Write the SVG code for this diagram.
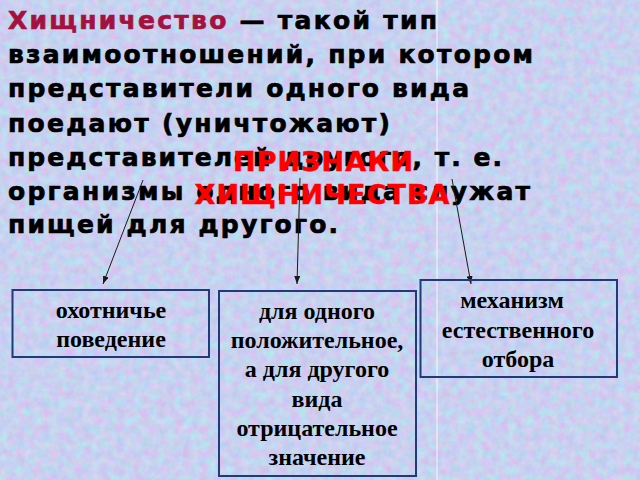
<svg xmlns="http://www.w3.org/2000/svg" width="640" height="480" viewBox="0 0 640 480">
<style>
.body{font-family:"DejaVu Sans",Verdana,sans-serif;font-weight:bold;font-size:25px;fill:#000;stroke:#000;stroke-width:0.7}
.term{fill:#a3123f;stroke:#a3123f}
.red{font-family:"DejaVu Sans",Verdana,sans-serif;font-weight:bold;font-size:27px;fill:#ff0000;stroke:#ff0000;stroke-width:0.5;text-anchor:middle}
.box{fill:none;stroke:#1f3b7a;stroke-width:2}
.lbl{font-family:"Liberation Serif","Times New Roman",serif;font-weight:bold;font-size:24px;fill:#000;text-anchor:middle}
.conn{stroke:#1a1a1a;stroke-width:1;fill:none;marker-end:url(#ah)}
</style>
<defs>
<filter id="tex" x="0" y="0" width="640" height="480" filterUnits="userSpaceOnUse" color-interpolation-filters="sRGB">
<feTurbulence type="fractalNoise" baseFrequency="0.12" numOctaves="3" seed="7"/>
<feColorMatrix type="matrix" values="0.28 0 0 0 0.645  -0.15 0.16 0 0 0.815  0 0 0.1 0 0.89  0 0 0 0 1"/>
</filter>
<marker id="ah" viewBox="0 0 8 6" refX="8" refY="3" markerWidth="8" markerHeight="6" markerUnits="userSpaceOnUse" orient="auto">
<path d="M0,0 L8,3 L0,6 z" fill="#1a1a1a"/>
</marker>
</defs>
<rect width="640" height="480" fill="#c6d2f1"/>
<rect width="640" height="480" filter="url(#tex)"/>
<line x1="437" y1="0" x2="437" y2="480" stroke="#ffffff" stroke-opacity="0.55" stroke-width="1.5"/>
<g id="definition">
<text class="body" x="8" y="29" textLength="429" lengthAdjust="spacing"><tspan class="term">Хищничество</tspan> — такой тип</text>
<text class="body" x="8" y="63" textLength="525" lengthAdjust="spacing">взаимоотношений, при котором</text>
<text class="body" x="8" y="97" textLength="461" lengthAdjust="spacing">представители одного вида</text>
<text class="body" x="8" y="132" textLength="382" lengthAdjust="spacing">поедают (уничтожают)</text>
<text class="body" x="8" y="166" textLength="494" lengthAdjust="spacing">представителей другого, т. е.</text>
<text class="body" x="8" y="200" textLength="522" lengthAdjust="spacing">организмы одного вида служат</text>
<text class="body" x="8" y="233" textLength="330" lengthAdjust="spacing">пищей для другого.</text>
</g>
<g id="title">
<text class="red" x="323" y="171" textLength="180" lengthAdjust="spacing">ПРИЗНАКИ</text>
<text class="red" x="322" y="204" textLength="255" lengthAdjust="spacing">ХИЩНИЧЕСТВА</text>
</g>
<g id="connectors">
<line class="conn" x1="143" y1="180" x2="103" y2="284"/>
<line class="conn" x1="300" y1="178" x2="297" y2="284"/>
<line class="conn" x1="452" y1="179" x2="471" y2="284"/>
</g>
<g id="node-hunting">
<rect class="box" x="12.5" y="290" width="196.5" height="67"/>
<text class="lbl" x="111" y="318">охотничье</text>
<text class="lbl" x="111" y="347">поведение</text>
</g>
<g id="node-value">
<rect class="box" x="219" y="291" width="197" height="185"/>
<text class="lbl" x="317" y="319">для одного</text>
<text class="lbl" x="317" y="348">положительное,</text>
<text class="lbl" x="317" y="377">а для другого</text>
<text class="lbl" x="317" y="407">вида</text>
<text class="lbl" x="317" y="436">отрицательное</text>
<text class="lbl" x="317" y="465">значение</text>
</g>
<g id="node-selection">
<rect class="box" x="420.5" y="280" width="196.5" height="97"/>
<text class="lbl" x="512" y="308">механизм</text>
<text class="lbl" x="518" y="338">естественного</text>
<text class="lbl" x="518" y="367">отбора</text>
</g>
</svg>
